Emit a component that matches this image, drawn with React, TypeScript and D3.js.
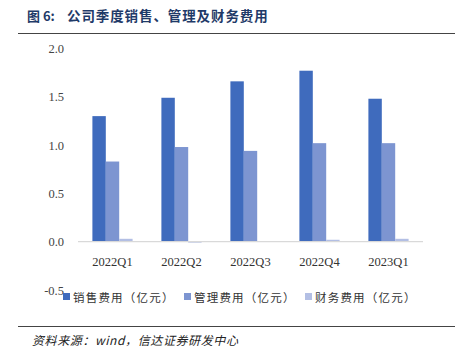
import React from "react";
import * as d3 from "d3";

const categories = ["2022Q1", "2022Q2", "2022Q3", "2022Q4", "2023Q1"];
const seriesNames = ["销售费用（亿元）", "管理费用（亿元）", "财务费用（亿元）"];
const sales = [1.3, 1.49, 1.66, 1.77, 1.48];
const admin = [0.83, 0.98, 0.94, 1.02, 1.02];
const finance = [0.03, -0.01, 0.005, 0.02, 0.03];
const yTicks = [-0.5, 0, 0.5, 1.0, 1.5, 2.0];
const colors = ["#3F6BBD", "#7D95D1", "#B3BFE4"];

export default function App() {
  const W = 455, H = 354;
  const x = d3.scaleBand().domain(categories).range([78, 423]);
  const y = d3.scaleLinear().domain([-0.5, 2.0]).range([290, 48.5]);
  const series = [sales, admin, finance];
  const barW = 13.4;
  const serif = "'Liberation Serif', 'DejaVu Serif', serif";
  const cjk = "'Noto Sans CJK SC', sans-serif";
  return (
    <svg width={W} height={H} style={{ position: "absolute", left: 0, top: 0, background: "#fff" }}>
      <text x={27} y={21} fontFamily={cjk} fontWeight={700} fontSize={13} fill="#1F3A68">
        图 6:
      </text>
      <text x={67} y={21} fontFamily={cjk} fontWeight={700} fontSize={13.5} letterSpacing={0.9} fill="#1F3A68">
        公司季度销售、管理及财务费用
      </text>
      <line x1={18} x2={455} y1={33.5} y2={33.5} stroke="#444" strokeWidth={1.2} />
      {yTicks.map((t) => (
        <text key={t} x={64} y={y(t) + 4.5} textAnchor="end" fontFamily={serif} fontSize={12.5} fill="#444">
          {t.toFixed(1)}
        </text>
      ))}
      {categories.map((c, i) =>
        series.map((s, j) => {
          const cx = (x(c) as number) + x.bandwidth() / 2;
          const x0 = cx - 1.5 * barW + j * barW;
          const v = s[i];
          return (
            <rect key={c + j} x={x0} y={Math.min(y(v), y(0))} width={barW}
              height={Math.max(Math.abs(y(v) - y(0)), 0.8)} fill={colors[j]} />
          );
        })
      )}
      <line x1={78} x2={423} y1={y(0)} y2={y(0)} stroke="#D9D9D9" strokeWidth={1.2} />
      {categories.map((c) => (
        <text key={c} x={(x(c) as number) + x.bandwidth() / 2} y={266} textAnchor="middle"
          fontFamily={serif} fontSize={12.5} fill="#333">
          {c}
        </text>
      ))}
      {seriesNames.map((n, j) => {
        const lx = [63, 184, 305][j];
        return (
          <g key={n}>
            <rect x={lx} y={293} width={7} height={7} fill={colors[j]} />
            <text x={lx + 10} y={301.5} fontFamily={cjk} fontSize={11.5} letterSpacing={1.2} fill="#333">
              {n}
            </text>
          </g>
        );
      })}
      <line x1={18} x2={455} y1={326.5} y2={326.5} stroke="#444" strokeWidth={1.2} />
      <text x={32} y={345} fontFamily={cjk} fontStyle="italic" fontSize={12} letterSpacing={0.6} fill="#222">
        资料来源：wind，信达证券研发中心
      </text>
    </svg>
  );
}
